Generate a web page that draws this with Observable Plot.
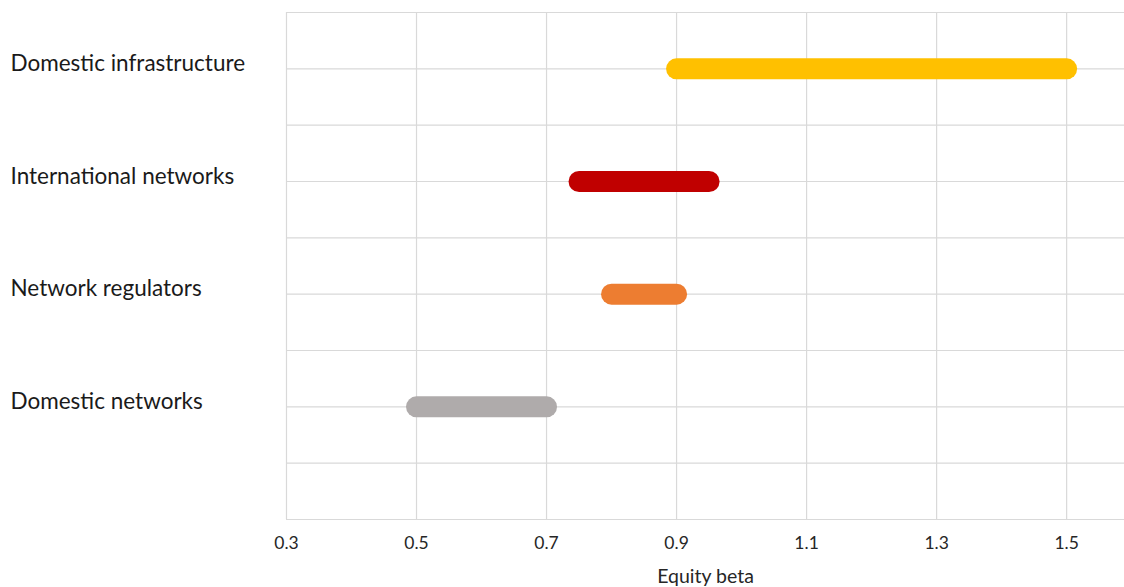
<!DOCTYPE html>
<html>
<head>
<meta charset="utf-8">
<script src="https://cdn.jsdelivr.net/npm/d3@7"></script>
<script src="https://cdn.jsdelivr.net/npm/@observablehq/plot@0.6"></script>
<style>
  html, body { margin: 0; padding: 0; background: #fff; }
  #chart svg { display: block; }
</style>
</head>
<body>
<div id="chart"></div>
<script>
const categories = ["Domestic infrastructure", "International networks", "Network regulators", "Domestic networks"];
const rowPos = [8, 6, 4, 2];
const lowValues = [0.9, 0.75, 0.8, 0.5];
const highValues = [1.5, 0.95, 0.9, 0.7];
const colors = ["#FFC000", "#C00000", "#ED7D31", "#AFABAB"];
const xTicks = [0.3, 0.5, 0.7, 0.9, 1.1, 1.3, 1.5];
const yGrid = [0, 1, 2, 3, 4, 5, 6, 7, 8, 9];
const xLabel = "Equity beta";

const data = categories.map((c, i) => ({cat: c, y: rowPos[i], lo: lowValues[i], hi: highValues[i], color: colors[i]}));

const chart = Plot.plot({
  width: 1124,
  height: 587,
  marginLeft: 286,
  marginRight: 0,
  marginTop: 12,
  marginBottom: 68,
  style: {fontFamily: "Lato, 'Open Sans', sans-serif", fontSize: "17.5px", color: "#262626", background: "#fff"},
  x: {domain: [0.3, 1.589], ticks: xTicks, tickFormat: d3.format(".1f"), tickSize: 0, tickPadding: 17, label: null},
  y: {domain: [0, 9], axis: null},
  marks: [
    Plot.ruleY(yGrid, {stroke: "#d9d9d9", strokeWidth: 1.2}),
    Plot.ruleX(xTicks, {stroke: "#d9d9d9", strokeWidth: 1.2}),
    Plot.link(data, {x1: "lo", x2: "hi", y1: "y", y2: "y", stroke: "color", strokeWidth: 21, strokeLinecap: "round", strokeOpacity: 1}),
    Plot.text(data, {y: "y", text: "cat", frameAnchor: "left", textAnchor: "start", dx: -276, dy: -5, fontSize: 22.5, fill: "#1a1a1a"}),
    Plot.text([xLabel], {text: d => d, frameAnchor: "bottom", dy: 63, fontSize: 19.5, fill: "#262626"})
  ]
});
document.getElementById("chart").appendChild(chart);
</script>
</body>
</html>
